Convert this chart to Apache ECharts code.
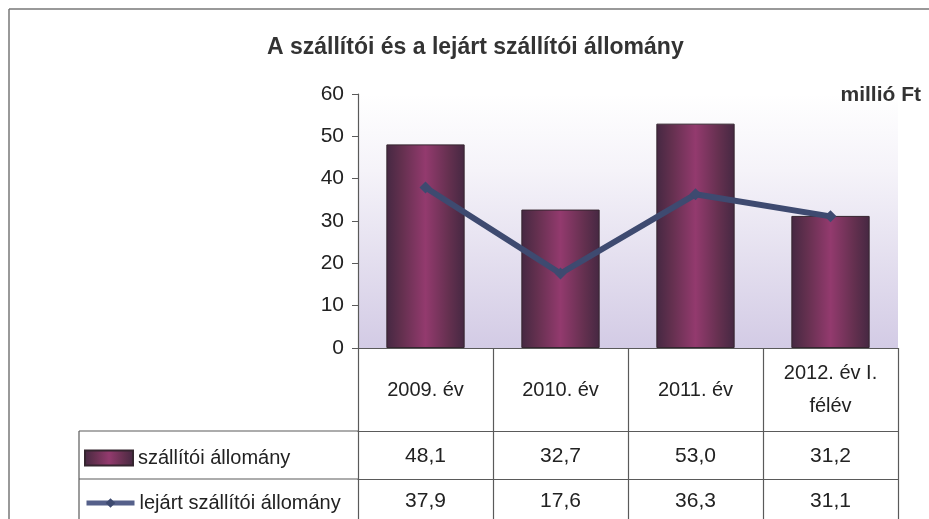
<!DOCTYPE html>
<html>
<head>
<meta charset="utf-8">
<script src="https://cdn.jsdelivr.net/npm/echarts@6/dist/echarts.min.js"></script>
<style>html,body{margin:0;padding:0;background:#fff}#c{width:929px;height:519px}</style>
</head>
<body>
<div id="c"></div>
<script>
const categories = ['2009. év', '2010. év', '2011. év', '2012. év I.\nfélév'];
const szallitoi = [48.1, 32.7, 53.0, 31.2];
const lejart = [37.9, 17.6, 36.3, 31.1];
const seriesNames = ['szállítói állomány', 'lejárt szállítói állomány'];
const yTicks = {min: 0, max: 60, interval: 10};
const titleText = 'A szállítói és a lejárt szállítói állomány';
const unitText = 'millió Ft';

const FONT = "'Liberation Sans Narrow','Arial Narrow','Liberation Sans',Arial,sans-serif";
const fmt = v => v.toFixed(1).replace('.', ',');
const lineCol = '#3e4a70';
const gridCol = '#5a5a5a';

const chart = echarts.init(document.getElementById('c'));
chart.setOption({
  animation: false,
  backgroundColor: '#ffffff',
  textStyle: {fontFamily: FONT},
  title: [
    {text: titleText, left: 262, top: 31,
     textStyle: {fontFamily: FONT, fontSize: 23, fontWeight: 'bold', color: '#333'}},
    {text: unitText, right: 3, top: 80,
     textStyle: {fontFamily: FONT, fontSize: 21, fontWeight: 'bold', color: '#333'}}
  ],
  legend: [
    {data: [{name: seriesNames[0], icon: 'rect'}], left: 84, top: 448, itemWidth: 48, itemHeight: 15, padding: 0,
     textStyle: {fontFamily: FONT, fontSize: 20, color: '#222'}},
    {data: [seriesNames[1]], left: 84, top: 493, itemWidth: 48, itemHeight: 12, padding: 0,
     lineStyle: {width: 5, color: '#55608a'},
     textStyle: {fontFamily: FONT, fontSize: 20, color: '#222'}}
  ],
  grid: {left: 358, right: 31, top: 94, bottom: 171, show: true, borderWidth: 0,
    backgroundColor: new echarts.graphic.LinearGradient(0, 0, 0, 1, [
      {offset: 0, color: '#ffffff'}, {offset: 0.3, color: '#f5f3f9'}, {offset: 1, color: '#d3cbe5'}])},
  xAxis: [
    {type: 'category', data: categories, position: 'bottom',
     axisLine: {lineStyle: {color: gridCol, width: 1.2}},
     axisTick: {show: true, alignWithLabel: false, length: 171, lineStyle: {color: gridCol, width: 1.2}},
     axisLabel: {fontFamily: FONT, fontSize: 20, color: '#222', margin: 42, verticalAlign: 'middle', lineHeight: 33}},
    {type: 'category', data: szallitoi.map(fmt), position: 'bottom', offset: 83,
     axisLine: {show: true, lineStyle: {color: gridCol, width: 1.2}},
     axisTick: {show: false},
     axisLabel: {fontFamily: FONT, fontSize: 21, color: '#222', margin: 25, verticalAlign: 'middle'}},
    {type: 'category', data: lejart.map(fmt), position: 'bottom', offset: 131,
     axisLine: {show: true, lineStyle: {color: gridCol, width: 1.2}},
     axisTick: {show: false},
     axisLabel: {fontFamily: FONT, fontSize: 21, color: '#222', margin: 22, verticalAlign: 'middle'}}
  ],
  yAxis: {type: 'value', min: yTicks.min, max: yTicks.max, interval: yTicks.interval,
    axisLine: {show: true, lineStyle: {color: gridCol, width: 1.2}},
    axisTick: {show: true, length: 6, lineStyle: {color: gridCol}},
    splitLine: {show: false},
    axisLabel: {fontFamily: FONT, fontSize: 21, color: '#222', margin: 14}},
  graphic: [
    {type: 'line', shape: {x1: 9, y1: 9, x2: 929, y2: 9}, style: {stroke: '#777', lineWidth: 1.5}},
    {type: 'line', shape: {x1: 9, y1: 9, x2: 9, y2: 519}, style: {stroke: '#777', lineWidth: 1.5}},
    {type: 'line', shape: {x1: 79, y1: 431, x2: 358, y2: 431}, style: {stroke: gridCol, lineWidth: 1.2}},
    {type: 'line', shape: {x1: 79, y1: 479, x2: 358, y2: 479}, style: {stroke: gridCol, lineWidth: 1.2}},
    {type: 'line', shape: {x1: 79, y1: 431, x2: 79, y2: 519}, style: {stroke: gridCol, lineWidth: 1.2}}
  ],
  series: [
    {name: seriesNames[0], type: 'bar', data: szallitoi, barWidth: '58%',
     itemStyle: {borderColor: '#35252f', borderWidth: 1,
       color: new echarts.graphic.LinearGradient(0, 0, 1, 0, [
         {offset: 0, color: '#452842'}, {offset: 0.2, color: '#64304f'},
         {offset: 0.5, color: '#933a6e'}, {offset: 0.8, color: '#64304f'}, {offset: 1, color: '#452842'}])}},
    {name: seriesNames[1], type: 'line', data: lejart, symbol: 'diamond', symbolSize: 12,
     lineStyle: {color: lineCol, width: 6}, itemStyle: {color: lineCol}}
  ]
});
</script>
</body>
</html>
